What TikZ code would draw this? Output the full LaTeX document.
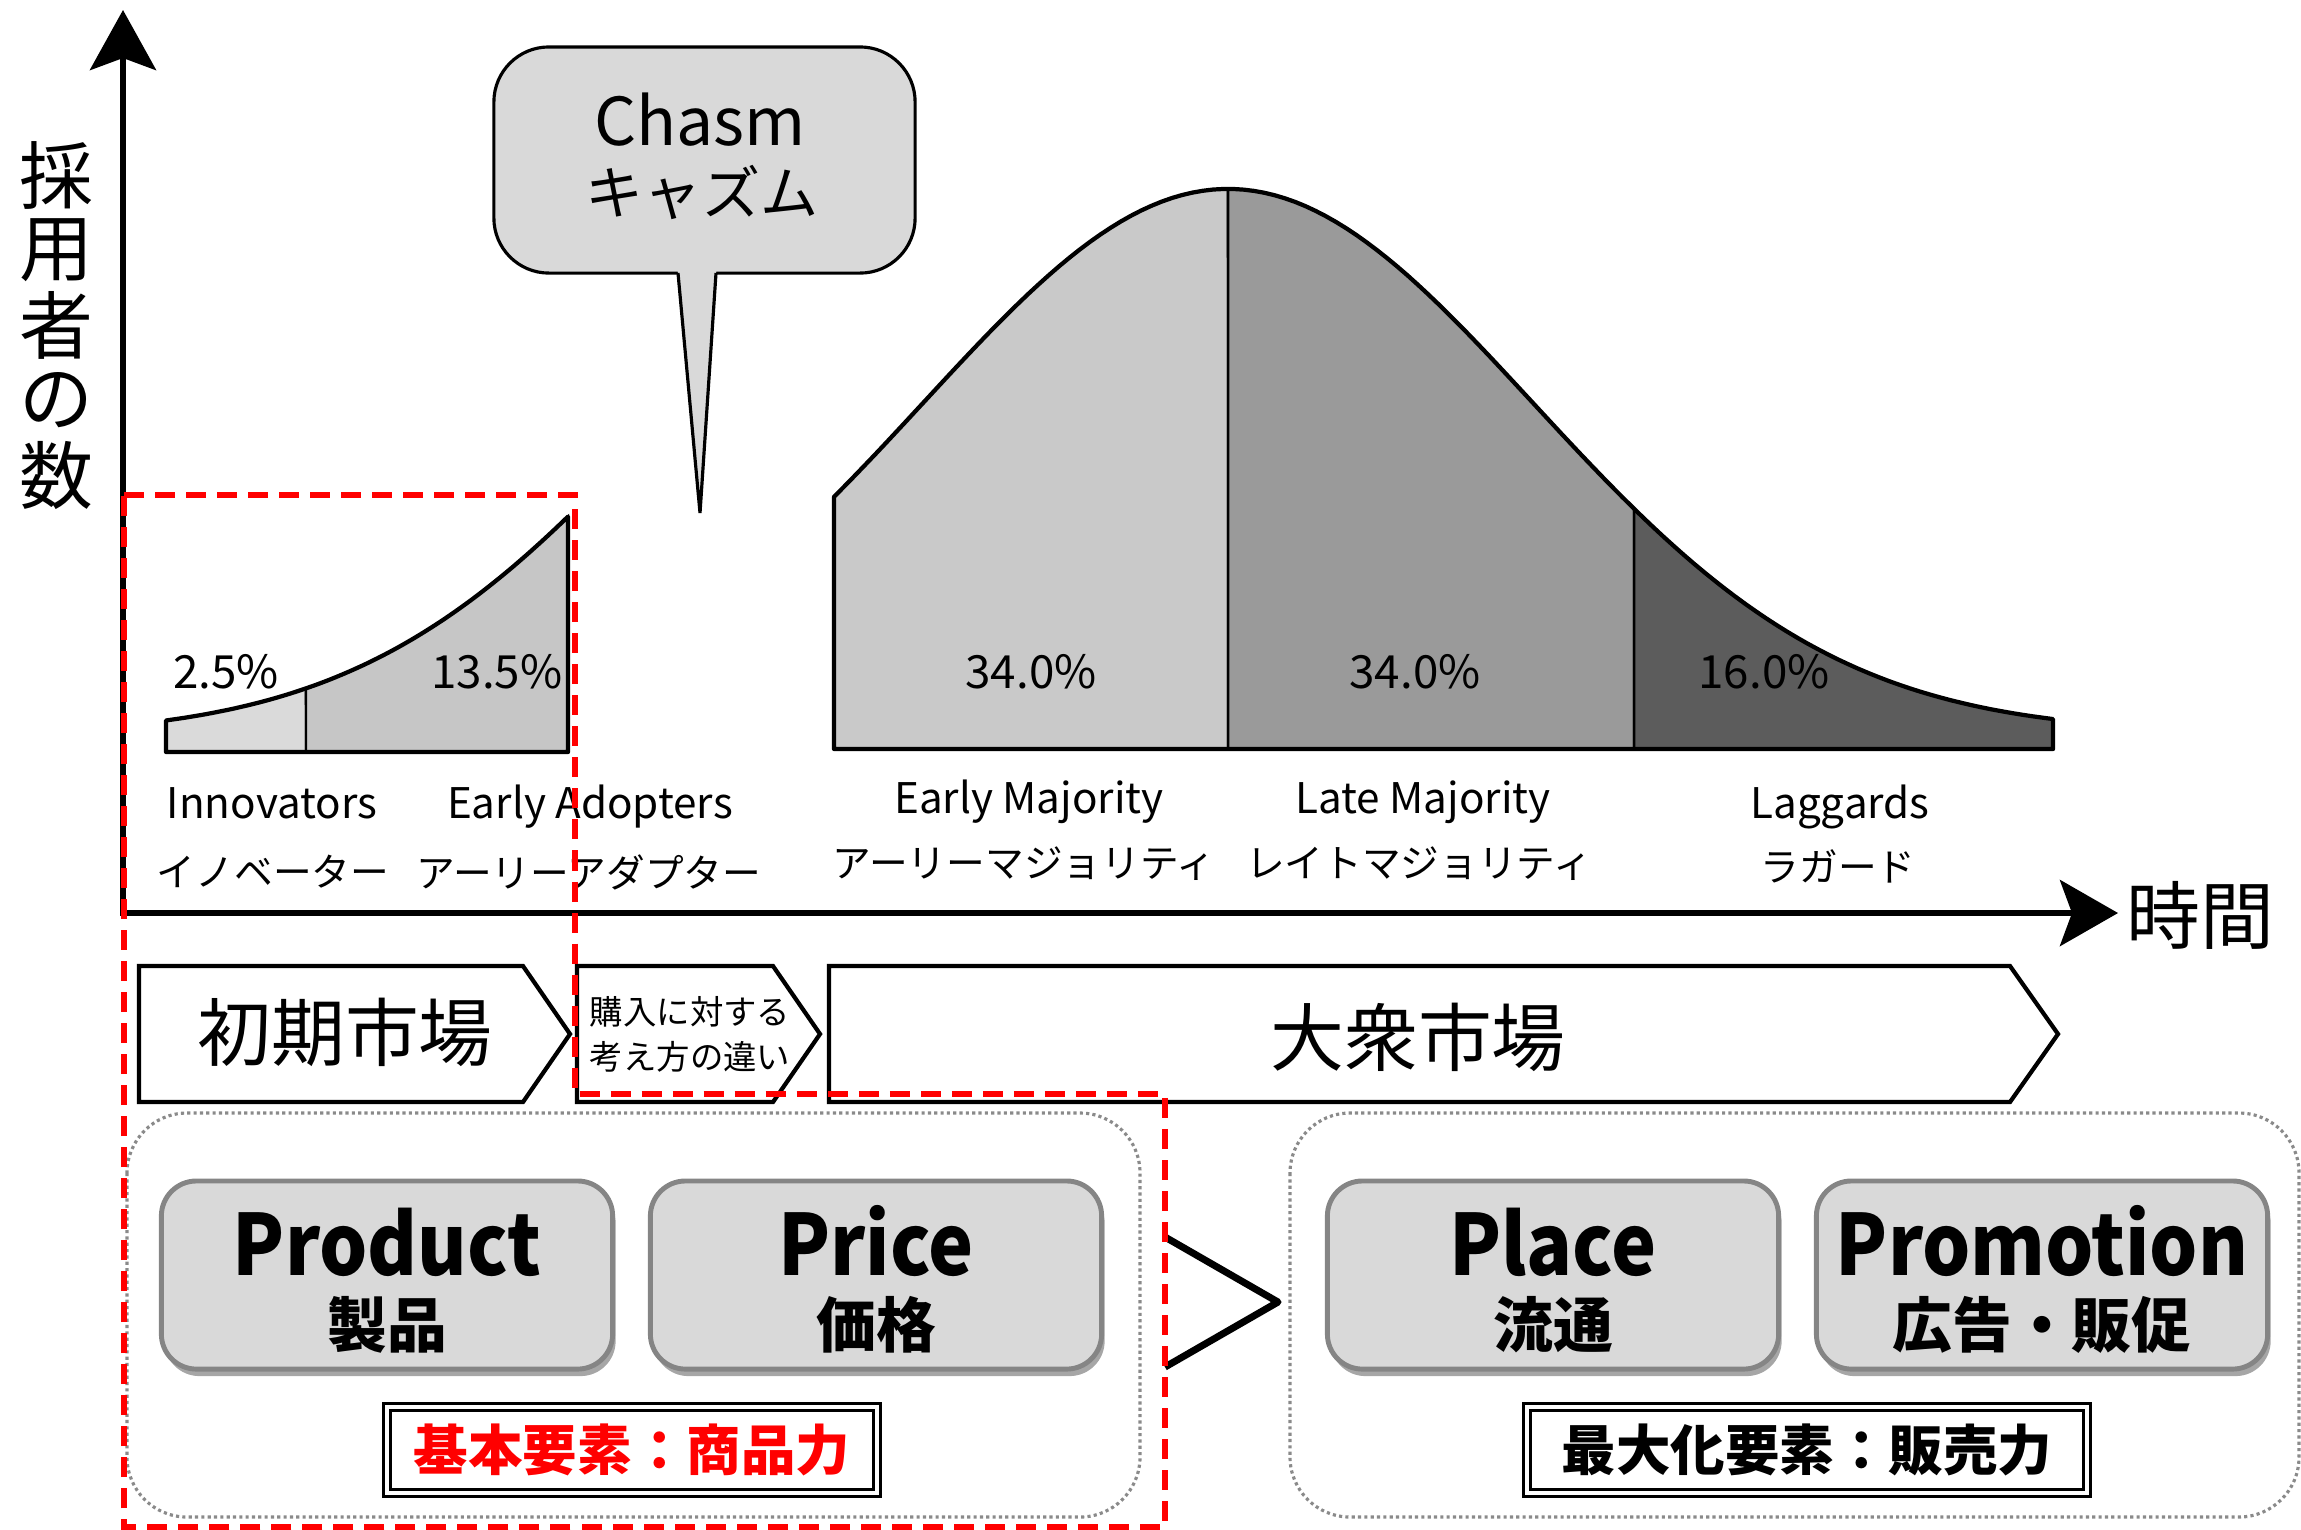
\documentclass[tikz,border=0pt]{standalone}
\usepackage{fontspec}
\setmainfont{Noto Sans CJK JP}
\usetikzlibrary{arrows.meta,shadows}
\definecolor{bubblefill}{HTML}{D9D9D9}
\definecolor{innofill}{HTML}{DADADA}
\definecolor{adoptfill}{HTML}{C6C6C6}
\definecolor{earlyfill}{HTML}{C9C9C9}
\definecolor{latefill}{HTML}{9A9A9A}
\definecolor{lagfill}{HTML}{5C5C5C}
\definecolor{boxfill}{HTML}{D9D9D9}
\definecolor{boxedge}{HTML}{858585}
\definecolor{dotgray}{HTML}{8A8A8A}
\definecolor{chasmred}{HTML}{FF0000}
\newcommand{\fsz}[2]{\fontsize{#1}{#2}\selectfont}
\newcommand{\narrowtxt}[1]{\scalebox{0.9}[1]{#1}}
\begin{document}
\begin{tikzpicture}[x=0.01cm,y=-0.01cm,
  txt/.style={inner sep=0pt, outer sep=0pt},
  pct/.style={txt, anchor=base, font=\fsz{13pt}{15pt}},
  enlab/.style={txt, anchor=base, font=\fsz{12pt}{14pt}},
  jplab/.style={txt, font=\fsz{11pt}{13pt}},
  axislab/.style={txt, font=\fsz{21pt}{25pt}},
  region/.style={draw=black, line width=0.7pt},
  outline/.style={draw=black, line width=1.2pt, line join=round},
  chev/.style={draw=black, line width=1.2pt, fill=white, line join=miter},
  market/.style={txt, font=\fsz{21pt}{25pt}},
  container/.style={draw=dotgray, line width=0.9pt, dash pattern=on 0.9pt off 0.9pt, rounded corners=0.6cm},
  pbox/.style={draw=boxedge, fill=boxfill, line width=1.4pt, rounded corners=0.35cm,
    minimum width=4.51cm, minimum height=1.88cm, inner sep=0pt,
    drop shadow={shadow xshift=0.03cm, shadow yshift=-0.07cm, opacity=0.35, fill=black}},
  ptitle/.style={txt, anchor=base, font=\bfseries\fsz{24pt}{28pt}},
  psub/.style={txt, font=\bfseries\fsz{17pt}{20pt}},
  dbox/.style={draw=black, double=white, double distance=0.045cm, line width=0.7pt,
    minimum width=4.9cm, minimum height=0.86cm, inner sep=0pt, font=\bfseries\fsz{15.5pt}{18pt}},
  reddash/.style={draw=chasmred, line width=0.055cm, dash pattern=on 0.2cm off 0.11cm},
  axisline/.style={line width=1.7pt, line join=miter,
    arrows={Stealth[length=0.6cm, width=0.66cm, inset=0.12cm]-Stealth[length=0.58cm, width=0.66cm, inset=0.12cm]}}
]
\useasboundingbox (0,0) rectangle (2301,1529);

% ---- Chasm bubble
\node[draw=black, fill=bubblefill, line width=0.9pt, rounded corners=0.55cm,
  minimum width=4.21cm, minimum height=2.26cm, inner sep=0pt] (bubble) at (704.5,160) {};
\fill[bubblefill] (677,268) -- (717,268) -- (716,273) -- (700,513) -- (678,273) -- cycle;
\draw[line width=0.9pt] (678,273) -- (700,513) -- (716,273);
\node[txt, anchor=base, font=\fsz{18.8pt}{22pt}] (chasmen) at (700,145) {Chasm};
\node[txt, font=\fsz{16.5pt}{20pt}] (chasmjp) at (702,192) {キャズム};

% ---- small curve (innovators / early adopters)
\filldraw[region, fill=innofill] (166,752) -- plot[domain=1.66:3.06, samples=25]
  ({100*\x},{736-544*exp(((\x-9.79)^2)/(-18.605))}) -- (306,752) -- cycle;
\filldraw[region, fill=adoptfill] (306,752) -- plot[domain=3.06:5.68, samples=35]
  ({100*\x},{736-544*exp(((\x-9.79)^2)/(-18.605))}) -- (568,752) -- cycle;
\draw[outline] (166,752) -- plot[domain=1.66:5.68, samples=60]
  ({100*\x},{736-544*exp(((\x-9.79)^2)/(-18.605))}) -- (568,752) -- cycle;

% ---- big curve
\filldraw[region, fill=earlyfill] (834,749) -- plot[domain=8.34:12.28, samples=40]
  ({100*\x},{733-544*exp(((\x-12.28)^2)/(-18.605))}) -- (1228,749) -- cycle;
\filldraw[region, fill=latefill] (1228,749) -- plot[domain=12.28:16.34, samples=40]
  ({100*\x},{733-544*exp(((\x-12.28)^2)/(-18.605))}) -- (1634,749) -- cycle;
\filldraw[region, fill=lagfill] (1634,749) -- plot[domain=16.34:20.53, samples=40]
  ({100*\x},{733-544*exp(((\x-12.28)^2)/(-18.605))}) -- (2053,749) -- cycle;
\draw[outline] (834,749) -- plot[domain=8.34:20.53, samples=120]
  ({100*\x},{733-544*exp(((\x-12.28)^2)/(-18.605))}) -- (2053,749) -- cycle;

% ---- percentages
\node[pct] (p1) at (226,688) {2.5\%};
\node[pct] (p2) at (497,688) {13.5\%};
\node[pct] (p3) at (1031,688) {34.0\%};
\node[pct] (p4) at (1415,688) {34.0\%};
\node[pct] (p5) at (1764,688) {16.0\%};

% ---- category labels
\node[enlab] (innoen) at (272,818) {Innovators};
\node[enlab] (adopen) at (590,818) {Early Adopters};
\node[enlab] (earlyen) at (1029,813) {Early Majority};
\node[enlab] (lateen) at (1423,813) {Late Majority};
\node[enlab] (lagen) at (1840,818) {Laggards};
\node[jplab] (innojp) at (273,872) {イノベーター};
\node[jplab] (adopjp) at (589,872) {アーリーアダプター};
\node[jplab] (earlyjp) at (1024,864) {アーリーマジョリティ};
\node[jplab] (latejp) at (1419,864) {レイトマジョリティ};
\node[jplab] (lagjp) at (1838,866) {ラガード};

% ---- axes
\coordinate (O) at (123,913);
\coordinate (Ytip) at (123,10);
\coordinate (Xtip) at (2118,913);
\draw[axisline] (Ytip) -- (O) -- (Xtip);
\foreach \c [count=\i] in {採,用,者,の,数}
  \node[axislab] (ylab\i) at (56,{100+75*\i}) {\c};
\node[axislab] (xlab) at (2200,915) {時間};

% ---- market chevrons
\draw[chev] (139,966) -- (523,966) -- (570,1034) -- (523,1102) -- (139,1102) -- cycle;
\draw[chev] (577,966) -- (773,966) -- (820,1034) -- (773,1102) -- (577,1102) -- cycle;
\draw[chev] (829,966) -- (2010,966) -- (2058,1034) -- (2010,1102) -- (829,1102) -- cycle;
\node[market] (early) at (345,1032) {初期市場};
\node[txt, align=center, font=\fsz{9.5pt}{12.8pt}] (buy) at (690,1034) {購入に対する\\考え方の違い};
\node[market] (mass) at (1418,1037) {大衆市場};

% ---- containers
\draw[container] (127,1113) rectangle (1140,1517);
\draw[container] (1290,1113) rectangle (2299,1517);

% ---- 4P boxes
\node[pbox] (prod) at (387,1275) {};
\node[pbox] (price) at (876,1275) {};
\node[pbox] (place) at (1553,1275) {};
\node[pbox] (promo) at (2042,1275) {};
\node[ptitle] (prodt) at (387,1275) {\narrowtxt{Product}};
\node[psub] (prods) at (387,1325) {製品};
\node[ptitle] (pricet) at (876,1275) {\narrowtxt{Price}};
\node[psub] (prices) at (876,1325) {価格};
\node[ptitle] (placet) at (1553,1275) {\narrowtxt{Place}};
\node[psub] (places) at (1553,1325) {流通};
\node[ptitle] (promot) at (2042,1275) {\narrowtxt{Promotion}};
\node[psub] (promos) at (2042,1325) {広告・販促};

% ---- labels
\node[dbox, text=chasmred] (basic) at (632,1450) {基本要素：商品力};
\node[dbox, minimum width=5.6cm] (maxim) at (1807,1450) {最大化要素：販売力};

% ---- greater-than sign
\draw[line width=0.07cm, line join=round] (1165,1237) -- (1278,1302) -- (1165,1367);

% ---- red dashed outline
\draw[reddash] (124,495) -- (575,495) -- (575,1094) -- (1165,1094) -- (1165,1527) -- (124,1527) -- cycle;
\end{tikzpicture}
\end{document}
